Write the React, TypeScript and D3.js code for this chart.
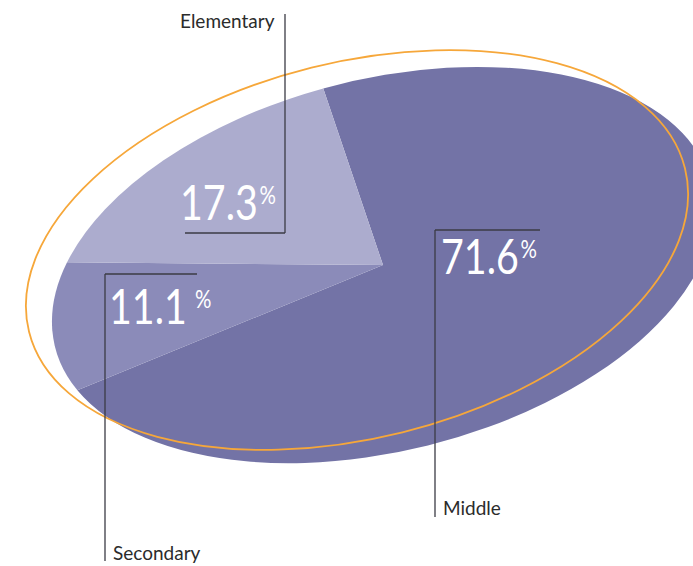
import * as d3 from "d3";

// shares of students by school level
const categories = ["Middle", "Secondary", "Elementary"];
const shares = [71.6, 11.1, 17.3];
const shareLabels = ["71.6", "11.1", "17.3"];

const colors: Record<string, string> = {
  Middle: "#7373a6",
  Secondary: "#8b8bb9",
  Elementary: "#acacce",
};

// hand placed call-outs (number + leader line + category name)
const callouts: Record<
  string,
  {
    numX: number; numY: number; pctDx: number;
    hx0: number; hx1: number; hy: number; vx: number; vy0: number; vy1: number;
    nameX: number; nameY: number;
  }
> = {
  Elementary: { numX: 180, numY: 220, pctDx: 2, hx0: 185, hx1: 285, hy: 233, vx: 285, vy0: 14, vy1: 233, nameX: 180, nameY: 28 },
  Secondary: { numX: 109, numY: 324, pctDx: 10, hx0: 105, hx1: 197, hy: 274, vx: 105, vy0: 274, vy1: 561, nameX: 113, nameY: 560 },
  Middle: { numX: 441, numY: 274, pctDx: 2, hx0: 435, hx1: 540, hy: 230, vx: 435, vy0: 230, vy1: 517, nameX: 443, nameY: 515 },
};

const W = 693;
const H = 566;
const tilt = -14; // degrees
const pieCenter = [383, 265];
const rimCenter = [357, 250];
const rx = 338;
const ry = 186;
const squeeze = 0.82; // the original face is narrower than Lato

export default function App() {
  const start = (-2.6 * Math.PI) / 180;
  const pie = d3
    .pie<number>()
    .sort(null)
    .startAngle(start)
    .endAngle(start + 2 * Math.PI);
  const arcs = pie(shares);
  const arc = d3.arc<d3.PieArcDatum<number>>().innerRadius(0).outerRadius(1);

  return (
    <svg
      width={W}
      height={H}
      style={{ position: "absolute", left: 0, top: 0, overflow: "hidden" }}
      fontFamily="Lato, 'Open Sans', sans-serif"
    >
      <g transform={`translate(${pieCenter[0]},${pieCenter[1]}) rotate(${tilt}) scale(${rx},${ry})`}>
        {arcs.map((d, i) => (
          <path key={categories[i]} d={arc(d) as string} fill={colors[categories[i]]} />
        ))}
      </g>
      <ellipse
        cx={0}
        cy={0}
        rx={rx}
        ry={ry + 2}
        transform={`translate(${rimCenter[0]},${rimCenter[1]}) rotate(${tilt})`}
        fill="none"
        stroke="#f6a73a"
        strokeWidth={1.8}
      />
      {categories.map((c, i) => {
        const o = callouts[c];
        return (
          <g key={c}>
            <line x1={o.hx0} x2={o.hx1} y1={o.hy} y2={o.hy} stroke="#3b3b44" strokeWidth={1.3} />
            <line x1={o.vx} x2={o.vx} y1={o.vy0} y2={o.vy1} stroke="#3b3b44" strokeWidth={1.3} />
            <text
              transform={`translate(${o.numX},${o.numY}) scale(${squeeze},1)`}
              fill="#fff"
              fontSize={48}
              fontWeight={400}
            >
              {shareLabels[i]}
              <tspan fontSize={25} dx={o.pctDx} dy={-16}>
                %
              </tspan>
            </text>
            <text x={o.nameX} y={o.nameY} fill="#2b2b2b" fontSize={19}>
              {c}
            </text>
          </g>
        );
      })}
    </svg>
  );
}
